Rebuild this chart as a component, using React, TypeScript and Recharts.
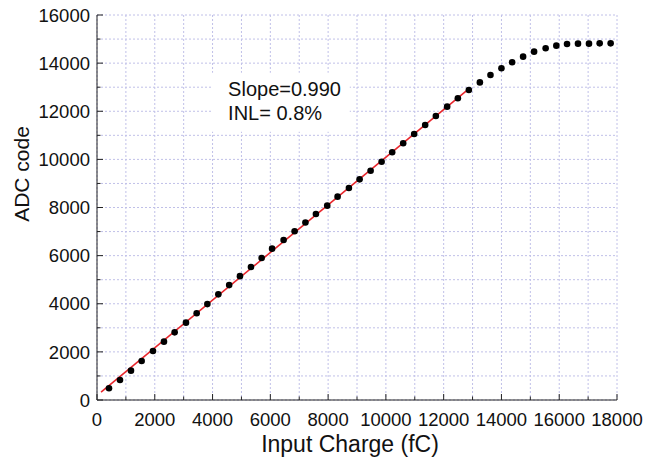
import { ComposedChart, Scatter, Line, XAxis, YAxis, CartesianGrid, ReferenceArea } from 'recharts';

const chargeFc = [
  415, 796, 1176, 1546, 1938, 2318, 2688, 3080, 3450, 3820, 4200, 4575, 4948, 5329, 5699, 6060, 6460,
  6840, 7215, 7578, 7970, 8328, 8720, 9090, 9471, 9852, 10218, 10599, 10979, 11360, 11730, 12121, 12491,
  12872, 13253, 13620, 14000, 14370, 14750, 15130, 15530, 15900, 16270, 16650, 17030, 17400, 17780,
];
const adcCode = [
  486, 831, 1219, 1621, 2037, 2424, 2812, 3214, 3603, 3985, 4390, 4775, 5147, 5528, 5900, 6290, 6650,
  7011, 7377, 7731, 8076, 8450, 8811, 9170, 9530, 9904, 10295, 10669, 11056, 11430, 11804, 12191, 12539,
  12884, 13200, 13508, 13786, 14036, 14270, 14477, 14616, 14726, 14796, 14810, 14810, 14822, 14822,
];
// linear fit (slope 0.990) endpoints
const fitX = [140, 12880];
const fitY = [330, 12940];

const xTicks = [0, 1000, 2000, 3000, 4000, 5000, 6000, 7000, 8000, 9000, 10000, 11000, 12000, 13000, 14000, 15000, 16000, 17000, 18000];
const yTicks = [0, 1000, 2000, 3000, 4000, 5000, 6000, 7000, 8000, 9000, 10000, 11000, 12000, 13000, 14000, 15000, 16000];

const notes = ['Slope=0.990', 'INL= 0.8%'];

const points = chargeFc.map((x, i) => ({ x, y: adcCode[i] }));
const fitLine = fitX.map((x, i) => ({ x, y: fitY[i] }));

const FONT = '"Liberation Sans", Arial, sans-serif';
const tickLen = (v: number) => (v % 2000 === 0 ? 6 : 3.5);

const BottomTick = ({ x, y, payload }: any) => (
  <g>
    <line x1={x} x2={x} y1={y} y2={y - tickLen(payload.value)} stroke="#222" />
    {payload.value % 2000 === 0 && (
      <text x={x} y={y + 26} textAnchor="middle" fontSize={18.5} fontFamily={FONT} fill="#111">
        {payload.value}
      </text>
    )}
  </g>
);

const TopTick = ({ x, y, payload }: any) => (
  <line x1={x} x2={x} y1={y} y2={y + tickLen(payload.value)} stroke="#222" />
);

const LeftTick = ({ x, y, payload }: any) => (
  <g>
    <line x1={x} x2={x + tickLen(payload.value)} y1={y} y2={y} stroke="#222" />
    {payload.value % 2000 === 0 && (
      <text x={x - 7} y={y} dy="0.36em" textAnchor="end" fontSize={18.5} fontFamily={FONT} fill="#111">
        {payload.value}
      </text>
    )}
  </g>
);

const RightTick = ({ x, y, payload }: any) => (
  <line x1={x} x2={x - tickLen(payload.value)} y1={y} y2={y} stroke="#222" />
);

const Dot = (props: any) => <circle cx={props.cx} cy={props.cy} r={3.3} fill="#000" />;

const NoteLabel = (props: any) => {
  const { x, y } = props.viewBox;
  return (
    <text x={x + 17} fontSize={20} fontFamily={FONT} fill="#111">
      {notes.map((t, i) => (
        <tspan key={t} x={x + 17} y={y + 23 + i * 24}>{t}</tspan>
      ))}
    </text>
  );
};

export default function App() {
  return (
    <div style={{ width: 646, height: 459, background: '#fff' }}>
      <style>{'body{margin:0;overflow:hidden}'}</style>
      <ComposedChart width={646} height={459} margin={{ top: 15, right: 29, bottom: 0, left: 0 }}>
        <CartesianGrid stroke="#c0c0e8" strokeDasharray="2 2" />
        <XAxis
          dataKey="x"
          type="number"
          domain={[0, 18000]}
          ticks={xTicks}
          interval={0}
          height={59}
          tickSize={0}
          tickMargin={0}
          tickLine={false}
          tick={<BottomTick />}
          axisLine={{ stroke: '#222' }}
          label={{ value: 'Input Charge (fC)', position: 'insideBottom', offset: 7, dx: -7, fontSize: 23, fontFamily: FONT, fill: '#111' }}
        />
        <XAxis
          xAxisId="top"
          orientation="top"
          type="number"
          domain={[0, 18000]}
          ticks={xTicks}
          interval={0}
          height={0}
          tickSize={0}
          tickMargin={0}
          tickLine={false}
          tick={<TopTick />}
          axisLine={{ stroke: '#222' }}
        />
        <YAxis
          type="number"
          domain={[0, 16000]}
          ticks={yTicks}
          interval={0}
          width={97}
          tickSize={0}
          tickMargin={0}
          tickLine={false}
          tick={<LeftTick />}
          axisLine={{ stroke: '#222' }}
          label={{ value: 'ADC code', angle: -90, position: 'insideLeft', offset: 22, dy: -33.5, fontSize: 21, fontFamily: FONT, fill: '#111', style: { textAnchor: 'middle' } }}
        />
        <YAxis
          yAxisId="right"
          orientation="right"
          type="number"
          domain={[0, 16000]}
          ticks={yTicks}
          interval={0}
          width={0}
          tickSize={0}
          tickMargin={0}
          tickLine={false}
          tick={<RightTick />}
          axisLine={{ stroke: '#222' }}
        />
        <ReferenceArea x1={3950} x2={8750} y1={11150} y2={13600} fill="#fff" fillOpacity={1} stroke="none" label={NoteLabel} />
        <Line data={fitLine} dataKey="y" stroke="#e8262c" strokeWidth={1.6} dot={false} isAnimationActive={false} />
        <Scatter data={points} dataKey="y" shape={Dot} isAnimationActive={false} />
      </ComposedChart>
    </div>
  );
}
